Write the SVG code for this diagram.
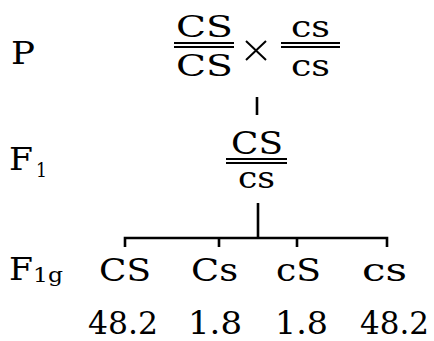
<svg xmlns="http://www.w3.org/2000/svg" width="434" height="341" viewBox="0 0 434 341">
<style>
text{font-family:"DejaVu Serif","Liberation Serif",serif;fill:#000}
.lab{font-size:32px}
.sub{font-size:20px}
.fr{font-size:30px}
.g{font-size:32px}
.n{font-size:32px}
.ln{stroke:#000;stroke-width:2;fill:none}
.cn{stroke:#000;stroke-width:2.6;fill:none}
</style>
<rect width="434" height="341" fill="#fff"/>
<g id="label-P"><text class="lab" x="11" y="64" textLength="24" lengthAdjust="spacingAndGlyphs">P</text></g>
<g id="label-F1"><text class="lab" x="9" y="170" textLength="24" lengthAdjust="spacingAndGlyphs">F</text><text class="sub" x="36" y="177" textLength="11" lengthAdjust="spacingAndGlyphs">1</text></g>
<g id="label-F1g"><text class="lab" x="9" y="280" textLength="24" lengthAdjust="spacingAndGlyphs">F</text><text class="sub" x="33" y="282" textLength="30" lengthAdjust="spacingAndGlyphs">1g</text></g>
<g id="parent-CS">
<text class="fr" x="176" y="37" textLength="57" lengthAdjust="spacingAndGlyphs">CS</text>
<line class="ln" x1="174" y1="43" x2="234" y2="43"/><line class="ln" x1="174" y1="47" x2="234" y2="47"/>
<text class="fr" x="176" y="76" textLength="57" lengthAdjust="spacingAndGlyphs">CS</text>
</g>
<g id="cross"><path class="ln" d="M246 41 L266 60 M266 41 L246 60" stroke-width="1.8"/></g>
<g id="parent-cs">
<text class="fr" x="291" y="37" textLength="39" lengthAdjust="spacingAndGlyphs">cs</text>
<line class="ln" x1="281" y1="43" x2="340" y2="43"/><line class="ln" x1="281" y1="47" x2="340" y2="47"/>
<text class="fr" x="291" y="76" textLength="39" lengthAdjust="spacingAndGlyphs">cs</text>
</g>
<g id="F1-genotype">
<text class="g" x="231" y="154" textLength="52" lengthAdjust="spacingAndGlyphs">CS</text>
<line class="ln" x1="226" y1="159" x2="287" y2="159"/><line class="ln" x1="226" y1="163" x2="287" y2="163"/>
<text class="fr" x="238" y="188" textLength="37" lengthAdjust="spacingAndGlyphs">cs</text>
</g>
<g id="connectors">
<line class="cn" x1="257" y1="97" x2="257" y2="115" stroke-width="3"/>
<line class="cn" x1="258" y1="203" x2="258" y2="238" stroke-width="3"/>
<path class="cn" d="M125 247 V238 H387 V247 M219 238 V247 M297 238 V247"/>
</g>
<g id="gamete-CS"><text class="g" x="99" y="281" textLength="52" lengthAdjust="spacingAndGlyphs">CS</text><text class="n" x="88" y="334" textLength="70" lengthAdjust="spacingAndGlyphs">48.2</text></g>
<g id="gamete-Cs"><text class="g" x="191" y="281" textLength="47" lengthAdjust="spacingAndGlyphs">Cs</text><text class="n" x="188" y="334" textLength="54" lengthAdjust="spacingAndGlyphs">1.8</text></g>
<g id="gamete-cS"><text class="g" x="276" y="281" textLength="45" lengthAdjust="spacingAndGlyphs">cS</text><text class="n" x="275" y="334" textLength="53" lengthAdjust="spacingAndGlyphs">1.8</text></g>
<g id="gamete-cs"><text class="g" x="362" y="281" textLength="45" lengthAdjust="spacingAndGlyphs">cs</text><text class="n" x="360" y="334" textLength="69" lengthAdjust="spacingAndGlyphs">48.2</text></g>
</svg>
